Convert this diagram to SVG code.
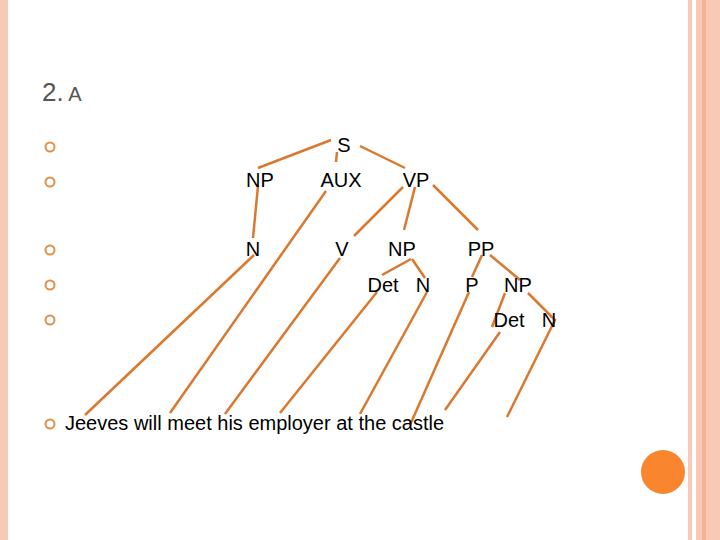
<svg xmlns="http://www.w3.org/2000/svg" width="720" height="540" viewBox="0 0 720 540">
<style>
.t{font-family:"Liberation Sans",Arial,sans-serif;font-size:20px;fill:#000}
.c line,.c polyline{stroke:#d9782e;stroke-width:2.5;fill:none}
.b{fill:none;stroke:#e0904a;stroke-width:2}
</style>
<rect width="720" height="540" fill="#fff"/>
<rect x="0" y="0" width="8" height="540" fill="#f9c9b6"/>
<rect x="688" y="0" width="4" height="540" fill="#f9c9b6"/>
<rect x="696" y="0" width="24" height="540" fill="#f9c9b6"/>
<rect x="702" y="0" width="4" height="540" fill="#f4b49b"/>
<circle cx="663" cy="472" r="22" fill="#f9852f"/>
<text x="42" y="101" font-family="Liberation Sans,Arial,sans-serif" font-size="26" fill="#555">2.<tspan font-size="20"> A</tspan></text>
<g id="bullets">
<circle class="b" cx="50" cy="147" r="4.5"/><circle class="b" cx="50" cy="182" r="4.5"/><circle class="b" cx="50" cy="250" r="4.5"/><circle class="b" cx="50" cy="285" r="4.5"/><circle class="b" cx="50" cy="320" r="4.5"/><circle class="b" cx="50" cy="424" r="4.5"/>
</g>
<g id="connectors" class="c">
<line x1="331" y1="140" x2="258" y2="168"/>
<line x1="337" y1="152" x2="336" y2="162"/>
<line x1="360" y1="146" x2="405" y2="168"/>
<line x1="258" y1="186" x2="253" y2="238"/>
<line x1="326" y1="191" x2="170" y2="413"/>
<line x1="403" y1="187" x2="354" y2="236"/>
<line x1="415" y1="187" x2="404" y2="230"/>
<line x1="433" y1="185" x2="478" y2="230"/>
<line x1="254" y1="255" x2="85" y2="415"/>
<line x1="340" y1="258" x2="225" y2="414"/>
<line x1="411" y1="259" x2="382" y2="275"/>
<line x1="412" y1="259" x2="425" y2="278"/>
<line x1="377" y1="292" x2="280" y2="413"/>
<line x1="427" y1="292" x2="360" y2="414"/>
<line x1="482" y1="255" x2="472" y2="277"/>
<line x1="490" y1="255" x2="520" y2="280"/>
<line x1="469" y1="292" x2="410" y2="425"/>
<line x1="505" y1="293" x2="492" y2="327"/>
<line x1="500" y1="332" x2="445" y2="410"/>
<polyline points="528,293 555,320 507,417"/>
</g>
<g id="S"><text class="t" x="344" y="152" text-anchor="middle">S</text></g>
<g id="NP1"><text class="t" x="260" y="187" text-anchor="middle">NP</text></g>
<g id="AUX"><text class="t" x="341" y="187" text-anchor="middle">AUX</text></g>
<g id="VP"><text class="t" x="416" y="187" text-anchor="middle">VP</text></g>
<g id="N1"><text class="t" x="253" y="256" text-anchor="middle">N</text></g>
<g id="V"><text class="t" x="342" y="256" text-anchor="middle">V</text></g>
<g id="NP2"><text class="t" x="402" y="256" text-anchor="middle">NP</text></g>
<g id="PP"><text class="t" x="481" y="256" text-anchor="middle">PP</text></g>
<g id="Det1"><text class="t" x="383" y="292" text-anchor="middle">Det</text></g>
<g id="N2"><text class="t" x="423" y="292" text-anchor="middle">N</text></g>
<g id="P"><text class="t" x="472" y="292" text-anchor="middle">P</text></g>
<g id="NP3"><text class="t" x="518" y="292" text-anchor="middle">NP</text></g>
<g id="Det2"><text class="t" x="509" y="327" text-anchor="middle">Det</text></g>
<g id="N3"><text class="t" x="549" y="327" text-anchor="middle">N</text></g>
<g id="sentence"><text class="t" x="65" y="430">Jeeves will meet his employer at the castle</text></g>
</svg>
